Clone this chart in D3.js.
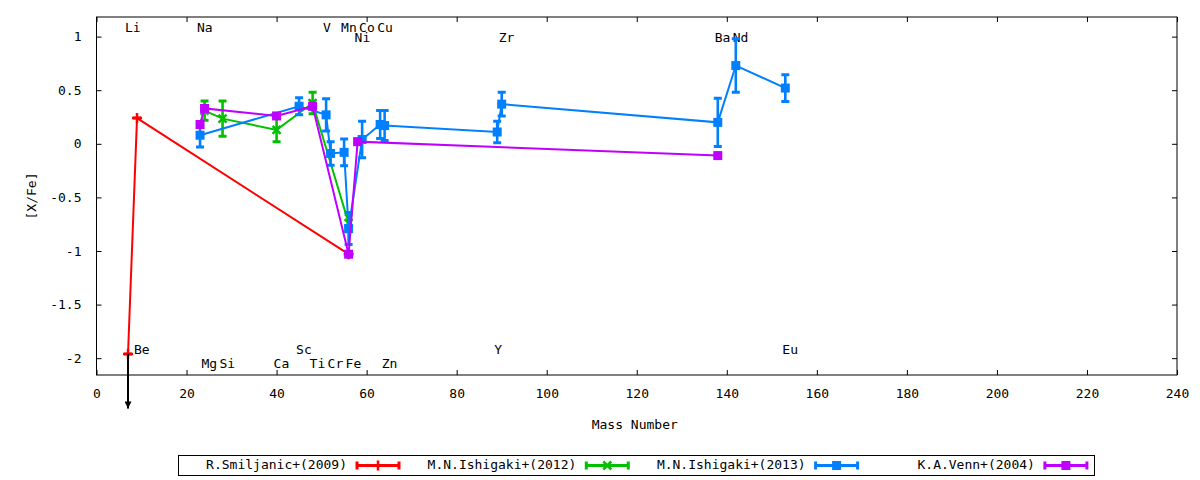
<!DOCTYPE html>
<html>
<head>
<meta charset="utf-8">
<script src="https://cdn.jsdelivr.net/npm/d3@7"></script>
<style>
  html, body { margin: 0; padding: 0; background: #fff; }
  svg { display: block; }
  text { font-family: "DejaVu Sans Mono", "Liberation Mono", monospace; font-size: 13px; fill: #000; }
</style>
</head>
<body>
<svg id="chart" width="1200" height="480"></svg>
<script>
// ---------------- data ----------------
const seriesNames = ["R.Smiljanic+(2009)", "M.N.Ishigaki+(2012)", "M.N.Ishigaki+(2013)", "K.A.Venn+(2004)"];
const seriesColors = ["#ff0000", "#00c000", "#0080ff", "#c000ff"];
const seriesMarkers = ["plus", "cross", "square", "square"];

const smiljanicMass = [7, 9, 56];
const smiljanicVal  = [-1.96, 0.24, -1.03];
const smiljanicErr  = [0, 0, 0];

const ishigaki12Mass = [24, 28, 40, 48, 56];
const ishigaki12Val  = [0.31, 0.235, 0.13, 0.38, -0.74];
const ishigaki12Err  = [0.09, 0.165, 0.11, 0.10, 0.08];

const ishigaki13Mass = [23, 45, 51, 52, 55, 56, 59, 63, 64, 89, 90, 138, 142, 153];
const ishigaki13Val  = [0.08, 0.35, 0.27, -0.09, -0.08, -0.79, 0.04, 0.18, 0.17, 0.11, 0.37, 0.20, 0.73, 0.52];
const ishigaki13Err  = [0.11, 0.08, 0.15, 0.11, 0.125, 0.15, 0.17, 0.13, 0.14, 0.10, 0.11, 0.225, 0.25, 0.125];

const vennMass = [23, 24, 40, 48, 56, 58, 138];
const vennVal  = [0.18, 0.33, 0.26, 0.35, -1.03, 0.02, -0.11];
const vennErr  = [0, 0, 0, 0, 0, 0, 0];

// Li upper limit (arrow)
const limitMass = [7];
const limitFrom = [-1.96];
const limitTo   = [-2.47];

// element labels: name, mass, tier (0,1 = top rows; 2,3 = bottom rows)
const elementNames = ["Li", "Be", "Na", "Mg", "Si", "Ca", "Sc", "Ti", "V", "Cr", "Mn", "Fe", "Co", "Ni", "Cu", "Zn", "Y", "Zr", "Ba", "Nd", "Eu"];
const elementMass  = [7, 9, 23, 24, 28, 40, 45, 48, 51, 52, 55, 56, 59, 58, 63, 64, 89, 90, 138, 142, 153];
const elementTier  = [0, 2, 0, 3, 3, 3, 2, 3, 0, 3, 0, 3, 0, 1, 0, 3, 2, 1, 1, 1, 2];
const tierValues   = [1.08, 0.98, -1.93, -2.06];

const xTicks = [0, 20, 40, 60, 80, 100, 120, 140, 160, 180, 200, 220, 240];
const yTicks = [-2, -1.5, -1, -0.5, 0, 0.5, 1];
const xLabel = "Mass Number";
const yLabel = "[X/Fe]";

// ---------------- build ----------------
const series = [
  {m: smiljanicMass, v: smiljanicVal, e: smiljanicErr},
  {m: ishigaki12Mass, v: ishigaki12Val, e: ishigaki12Err},
  {m: ishigaki13Mass, v: ishigaki13Val, e: ishigaki13Err},
  {m: vennMass, v: vennVal, e: vennErr}
].map((s, i) => ({
  name: seriesNames[i], color: seriesColors[i], marker: seriesMarkers[i],
  pts: s.m.map((m, j) => ({m, v: s.v[j], e: s.e[j]}))
}));

const svg = d3.select("#chart");
const L = 96.5, R = 1177, T = 17, B = 375;
const x = d3.scaleLinear().domain([0, 240]).range([L, R]);
const y = d3.scaleLinear().domain([-2.157, 1.183]).range([B, T]);

svg.append("rect").attr("width", 1200).attr("height", 480).attr("fill", "#fff");

// axes with inward ticks, mirrored
const tickLen = 5;
svg.append("g").attr("transform", `translate(0,${B})`)
  .call(d3.axisBottom(x).tickValues(xTicks).tickSizeInner(-tickLen).tickSizeOuter(0).tickPadding(14).tickFormat(d3.format("d")))
  .call(g => g.select(".domain").remove());
svg.append("g").attr("transform", `translate(0,${T})`)
  .call(d3.axisTop(x).tickValues(xTicks).tickSizeInner(-tickLen).tickSizeOuter(0).tickFormat(""))
  .call(g => g.select(".domain").remove());
svg.append("g").attr("transform", `translate(${L},0)`)
  .call(d3.axisLeft(y).tickValues(yTicks).tickSizeInner(-tickLen).tickSizeOuter(0).tickPadding(15)
    .tickFormat(d => String(d)))
  .call(g => g.select(".domain").remove());
svg.append("g").attr("transform", `translate(${R},0)`)
  .call(d3.axisRight(y).tickValues(yTicks).tickSizeInner(-tickLen).tickSizeOuter(0).tickFormat(""))
  .call(g => g.select(".domain").remove());
svg.selectAll(".tick line").attr("stroke", "#000");
svg.selectAll(".tick text").style("font-family", "DejaVu Sans Mono").style("font-size", "13px").attr("fill", "#000");

svg.append("rect").attr("x", L).attr("y", T).attr("width", R - L).attr("height", B - T)
  .attr("fill", "none").attr("stroke", "#000").attr("stroke-width", 1);

// axis labels
svg.append("text").attr("x", (L + R) / 2 - 2).attr("y", 425).attr("text-anchor", "middle")
  .attr("dominant-baseline", "middle").text(xLabel);
svg.append("text").attr("transform", `translate(32,196) rotate(-90)`).attr("text-anchor", "middle")
  .attr("dominant-baseline", "middle").text(yLabel);

// element labels
const labels = elementNames.map((n, i) => ({n, m: elementMass[i], t: elementTier[i]}));
svg.append("g").selectAll("text").data(labels).join("text")
  .attr("x", d => x(d.m) - 3)
  .attr("y", d => y(tierValues[d.t]))
  .attr("dominant-baseline", "middle")
  .text(d => d.n);

// marker drawing
function drawMarker(g, type, cx, cy, color) {
  if (type === "plus") {
    g.append("path").attr("d", `M${cx-5},${cy}H${cx+5}M${cx},${cy-5}V${cy+5}`)
      .attr("stroke", color).attr("stroke-width", 2.5).attr("fill", "none");
  } else if (type === "cross") {
    g.append("path").attr("d", `M${cx-4},${cy-4}L${cx+4},${cy+4}M${cx-4},${cy+4}L${cx+4},${cy-4}`)
      .attr("stroke", color).attr("stroke-width", 2.5).attr("fill", "none");
  } else {
    g.append("rect").attr("x", cx - 4.5).attr("y", cy - 4.5).attr("width", 9).attr("height", 9).attr("fill", color);
  }
}

const capW = 4;
const line = d3.line().x(d => x(d.m)).y(d => y(d.v));
series.forEach(s => {
  const g = svg.append("g");
  g.append("path").datum(s.pts).attr("d", line)
    .attr("fill", "none").attr("stroke", s.color).attr("stroke-width", 2);
  s.pts.forEach(p => {
    const cx = x(p.m), y0 = y(p.v - p.e), y1 = y(p.v + p.e);
    g.append("path").attr("d", `M${cx},${y0}V${y1}`).attr("stroke", s.color).attr("stroke-width", 2.6);
    g.append("path").attr("d", `M${cx-capW},${y0}H${cx+capW}M${cx-capW},${y1}H${cx+capW}`)
      .attr("stroke", s.color).attr("stroke-width", 3);
    drawMarker(g, s.marker, cx, y(p.v), s.color);
  });
});

// upper-limit arrow
const defs = svg.append("defs");
defs.append("marker").attr("id", "arrowhead").attr("viewBox", "0 0 10 10")
  .attr("refX", 10).attr("refY", 5).attr("markerWidth", 4).attr("markerHeight", 3.5)
  .attr("markerUnits", "strokeWidth").attr("orient", "auto")
  .append("path").attr("d", "M0,0L10,5L0,10Z").attr("fill", "#000");
limitMass.forEach((m, i) => {
  svg.append("line").attr("x1", x(m)).attr("x2", x(m)).attr("y1", y(limitFrom[i])).attr("y2", y(limitTo[i]))
    .attr("stroke", "#000").attr("stroke-width", 2).attr("marker-end", "url(#arrowhead)");
});

// legend
const lg = svg.append("g");
lg.append("rect").attr("x", 178.5).attr("y", 455.5).attr("width", 916).attr("height", 20)
  .attr("fill", "#fff").attr("stroke", "#000").attr("stroke-width", 1);
series.forEach((s, i) => {
  const sx = 357 + i * 229.3, cy = 465.5;
  lg.append("text").attr("x", sx - 10).attr("y", cy).attr("text-anchor", "end")
    .attr("dominant-baseline", "middle").text(s.name);
  lg.append("path").attr("d", `M${sx},${cy}H${sx+42}`).attr("stroke", s.color).attr("stroke-width", 3);
  lg.append("path").attr("d", `M${sx},${cy-4}V${cy+4}M${sx+42},${cy-4}V${cy+4}`)
    .attr("stroke", s.color).attr("stroke-width", 3);
  drawMarker(lg, s.marker, sx + 21, cy, s.color);
});
</script>
</body>
</html>
